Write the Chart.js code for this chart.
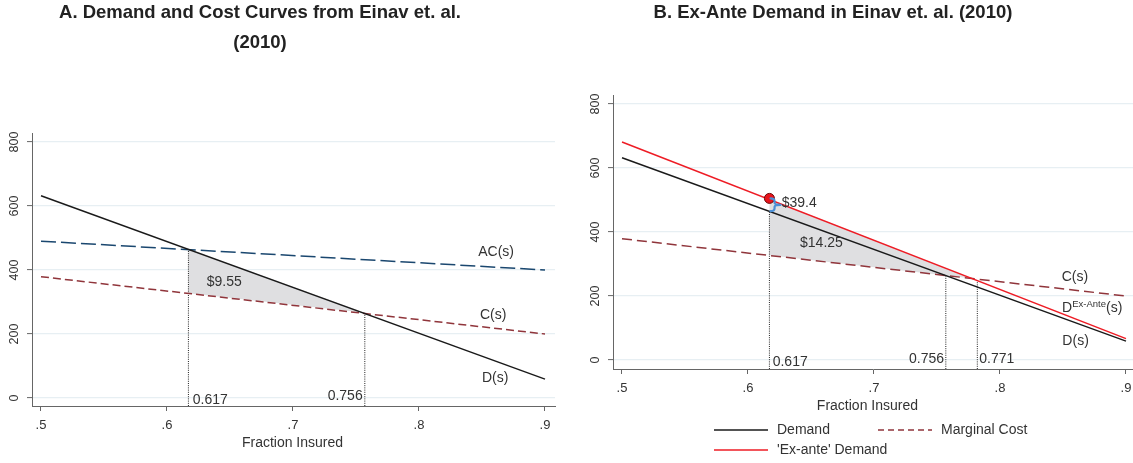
<!DOCTYPE html>
<html><head><meta charset="utf-8">
<script src="https://cdn.jsdelivr.net/npm/chart.js@4/dist/chart.umd.min.js"></script>
<style>
html,body{margin:0;padding:0;background:#fff;}
#wrap{position:relative;width:1133px;height:463px;overflow:hidden;background:#fff;}
#a{position:absolute;left:0;top:0;}
#b{position:absolute;left:560px;top:0;}
</style></head><body>
<div id="wrap"><canvas id="a" width="560" height="463"></canvas><canvas id="b" width="573" height="463"></canvas></div>
<script>
// ---- data ----
const xTicks = [0.5, 0.6, 0.7, 0.8, 0.9];
const xTickLabels = ['.5', '.6', '.7', '.8', '.9'];
const yTicks = [0, 200, 400, 600, 800];
const yTickLabels = ['0', '200', '400', '600', '800'];

const curveS = [0.5, 0.9];            // fraction insured (line endpoints)
const demandV = [632, 59];            // D(s)
const avgCostV = [490, 400];          // AC(s)
const margCostV = [379, 200];         // C(s)
const exAnteV = [681, 67];            // D^Ex-Ante(s)

// Panel A welfare-loss triangle
const lossAS = [0.617, 0.757, 0.617];
const lossAV = [465, 266, 327];
// Panel B welfare-loss region
const lossBS = [0.617, 0.778, 0.617];
const lossBV = [503, 255, 327];

// drop lines (s, top value)
const dropAS = [0.617, 0.757];
const dropAV = [465, 266];
const dropBS = [0.617, 0.757, 0.782];
const dropBV = [463, 264, 252];

// ex-ante point
const pointBS = [0.617];
const pointBV = [505];

const axisMinA = -25, axisMinB = -28, axisMax = 828;

// annotations (text, s, value, align)
const annotA = [
  ['AC(s)', 0.847, 455, 'left'],
  ['C(s)', 0.8484, 259, 'left'],
  ['D(s)', 0.850, 62, 'left'],
  ['$9.55', 0.6315, 362, 'left'],
  ['0.617', 0.6204, -6, 'left'],
  ['0.756', 0.7553, 7, 'right']
];
const annotB = [
  ['$39.4', 0.6267, 490, 'left'],
  ['$14.25', 0.6413, 366, 'left'],
  ['C(s)', 0.849, 260, 'left'],
  ['D(s)', 0.8495, 60, 'left'],
  ['0.756', 0.7556, 4, 'right'],
  ['0.771', 0.7836, 4, 'left'],
  ['0.617', 0.6196, -7, 'left']
];

// ---- helpers ----
const pts = (xs, ys) => xs.map((x, i) => ({x: x, y: ys[i]}));
const FONT = '"Liberation Sans", Arial, sans-serif';
const BLACK = '#1a1a1a', NAVY = '#1a476f', MAROON = '#90353b', RED = '#ee1c25';

function lineDs(data, color, dash, width) {
  return {data: data, showLine: true, borderColor: color, borderDash: dash || [], borderWidth: width || 1.4,
          pointRadius: 0, fill: false, tension: 0};
}
function dropDs(s, top, min) {
  return {data: [{x: s, y: min}, {x: s, y: top}], showLine: true, borderColor: '#222', borderDash: [1, 1.2],
          borderWidth: 1, pointRadius: 0, fill: false};
}
function polyDs(data) {
  return {data: data, showLine: true, fill: 'shape', backgroundColor: '#dfdfe1', borderColor: 'rgba(0,0,0,0)',
          borderWidth: 0.01, pointRadius: 0};
}

const deco = {
  id: 'deco',
  afterDatasetsDraw(chart, args, o) {
    const ctx = chart.ctx, xs = chart.scales.x, ys = chart.scales.y;
    if (o.brace) {
      const b = o.brace;
      const x = xs.getPixelForValue(b.s);
      const y1 = ys.getPixelForValue(b.top), y2 = ys.getPixelForValue(b.bottom);
      const m = (y1 + y2) / 2;
      ctx.save();
      ctx.strokeStyle = '#4a8fd6'; ctx.lineWidth = 2.2; ctx.lineJoin = 'round'; ctx.lineCap = 'round';
      ctx.beginPath();
      ctx.moveTo(x - 2, y1);
      ctx.quadraticCurveTo(x + 2, y1, x + 2, y1 + 3);
      ctx.lineTo(x + 2, m - 2);
      ctx.quadraticCurveTo(x + 2, m, x + 8, m);
      ctx.moveTo(x + 8, m);
      ctx.quadraticCurveTo(x + 2, m, x + 2, m + 2);
      ctx.lineTo(x + 2, y2 - 3);
      ctx.quadraticCurveTo(x + 2, y2, x - 2, y2);
      ctx.stroke();
      ctx.restore();
    }
  },
  afterDraw(chart, args, o) {
    const ctx = chart.ctx, xs = chart.scales.x, ys = chart.scales.y, ca = chart.chartArea;
    ctx.save();
    // y tick labels, rotated
    ctx.fillStyle = '#333';
    ctx.font = '12.5px ' + FONT;
    yTicks.forEach((v, i) => {
      ctx.save();
      ctx.translate(ca.left - 17, ys.getPixelForValue(v));
      ctx.rotate(-Math.PI / 2);
      ctx.textAlign = 'center'; ctx.textBaseline = 'middle';
      ctx.fillText(yTickLabels[i], 0, 0);
      ctx.restore();
    });
    // x tick labels
    ctx.font = '13px ' + FONT;
    ctx.textAlign = 'center'; ctx.textBaseline = 'middle';
    xTicks.forEach((v, i) => ctx.fillText(xTickLabels[i], xs.getPixelForValue(v), ca.bottom + 19));
    // x axis title
    ctx.font = '14px ' + FONT;
    ctx.fillText(o.xTitle, xs.getPixelForValue(o.xTitleAt), ca.bottom + 37);
    // panel titles
    ctx.font = 'bold 18.5px ' + FONT;
    ctx.fillStyle = '#222';
    o.titles.forEach(t => ctx.fillText(t[0], t[1], t[2]));
    // annotations
    ctx.fillStyle = '#333';
    ctx.font = '14px ' + FONT;
    ctx.textBaseline = 'middle';
    o.annot.forEach(a => {
      ctx.textAlign = a[3];
      ctx.fillText(a[0], xs.getPixelForValue(a[1]), ys.getPixelForValue(a[2]));
    });
    if (o.supLabel) {
      const L = o.supLabel;
      let x = xs.getPixelForValue(L.s), y = ys.getPixelForValue(L.v);
      ctx.textAlign = 'left'; ctx.textBaseline = 'middle';
      ctx.font = '14px ' + FONT;
      ctx.fillText(L.base, x, y); x += ctx.measureText(L.base).width;
      ctx.font = '9.5px ' + FONT;
      ctx.fillText(L.sup, x, y - 4); x += ctx.measureText(L.sup).width;
      ctx.font = '14px ' + FONT;
      ctx.fillText(L.tail, x, y);
    }
    // legend
    if (o.legend) {
      ctx.font = '14px ' + FONT;
      ctx.textAlign = 'left'; ctx.textBaseline = 'middle';
      o.legend.forEach(it => {
        const ds = chart.data.datasets[it.ds];
        ctx.save();
        ctx.strokeStyle = ds.borderColor; ctx.lineWidth = 1.5;
        ctx.setLineDash(it.dash || []);
        ctx.beginPath(); ctx.moveTo(it.x, it.y); ctx.lineTo(it.x + 54, it.y); ctx.stroke();
        ctx.restore();
        ctx.fillStyle = '#333';
        ctx.fillText(it.label, it.x + 63, it.y);
      });
    }
    ctx.restore();
  }
};

function makeScales(xmin, xmax, ymin, xHeight, yWidth) {
  return {
    x: {
      type: 'linear', min: xmin, max: xmax,
      afterBuildTicks: s => { s.ticks = xTicks.map(v => ({value: v})); },
      afterFit: s => { s.height = xHeight; s.paddingLeft = 0; s.paddingRight = 0; },
      grid: {drawOnChartArea: false, drawTicks: true, tickLength: 5, tickColor: '#666', tickWidth: 1},
      border: {display: true, color: '#666', width: 1},
      ticks: {display: false}
    },
    y: {
      type: 'linear', min: ymin, max: axisMax,
      afterBuildTicks: s => { s.ticks = yTicks.map(v => ({value: v})); },
      afterFit: s => { s.width = yWidth; s.paddingTop = 0; s.paddingBottom = 0; },
      grid: {drawOnChartArea: true, color: '#e7eff3', lineWidth: 1.2, drawTicks: true, tickLength: 5, tickColor: '#666', tickWidth: 1},
      border: {display: true, color: '#666', width: 1},
      ticks: {display: false}
    }
  };
}

Chart.register(deco);

// ---- Panel A ----
new Chart(document.getElementById('a'), {
  type: 'scatter',
  data: {datasets: [
    lineDs(pts(curveS, demandV), BLACK, [], 1.4),
    lineDs(pts(curveS, avgCostV), NAVY, [15, 5], 1.5),
    lineDs(pts(curveS, margCostV), MAROON, [8, 4], 1.5),
    dropDs(dropAS[0], dropAV[0], axisMinA),
    dropDs(dropAS[1], dropAV[1], axisMinA),
    polyDs(pts(lossAS, lossAV))
  ]},
  options: {
    responsive: false, animation: false, devicePixelRatio: 1,
    layout: {autoPadding: false, padding: {top: 133, right: 5, left: 0, bottom: 0}},
    scales: makeScales(0.49286, 0.90794, axisMinA, 57, 32),
    plugins: {
      legend: {display: false}, tooltip: {enabled: false},
      deco: {
        xTitle: 'Fraction Insured', xTitleAt: 0.6996,
        titles: [['A. Demand and Cost Curves from Einav et. al.', 260, 13], ['(2010)', 260, 43]],
        annot: annotA
      }
    }
  }
});

// ---- Panel B ----
new Chart(document.getElementById('b'), {
  type: 'scatter',
  data: {datasets: [
    {data: pts(pointBS, pointBV), pointRadius: 5, pointBackgroundColor: '#e8141c', pointBorderColor: '#6b0a0a', pointBorderWidth: 1},
    lineDs(pts(curveS, exAnteV), RED, [], 1.5),
    lineDs(pts(curveS, demandV), BLACK, [], 1.4),
    lineDs(pts(curveS, margCostV), MAROON, [10, 5], 1.5),
    dropDs(dropBS[0], dropBV[0], axisMinB),
    dropDs(dropBS[1], dropBV[1], axisMinB),
    dropDs(dropBS[2], dropBV[2], axisMinB),
    polyDs(pts(lossBS, lossBV))
  ]},
  options: {
    responsive: false, animation: false, devicePixelRatio: 1,
    layout: {autoPadding: false, padding: {top: 95, right: 0, left: 0, bottom: 0}},
    scales: makeScales(0.49286, 0.90556, axisMinB, 94, 53),
    plugins: {
      legend: {display: false}, tooltip: {enabled: false},
      deco: {
        xTitle: 'Fraction Insured', xTitleAt: 0.6948,
        titles: [['B. Ex-Ante Demand in Einav et. al. (2010)', 273, 13]],
        annot: annotB,
        supLabel: {base: 'D', sup: 'Ex-Ante', tail: '(s)', s: 0.8493, v: 161},
        brace: {s: 0.6195, top: 505, bottom: 465},
        legend: [
          {ds: 2, label: 'Demand', x: 154, y: 430},
          {ds: 3, label: 'Marginal Cost', x: 318, y: 430, dash: [6, 4]},
          {ds: 1, label: "'Ex-ante' Demand", x: 154, y: 450}
        ]
      }
    }
  }
});
</script>
</body></html>
